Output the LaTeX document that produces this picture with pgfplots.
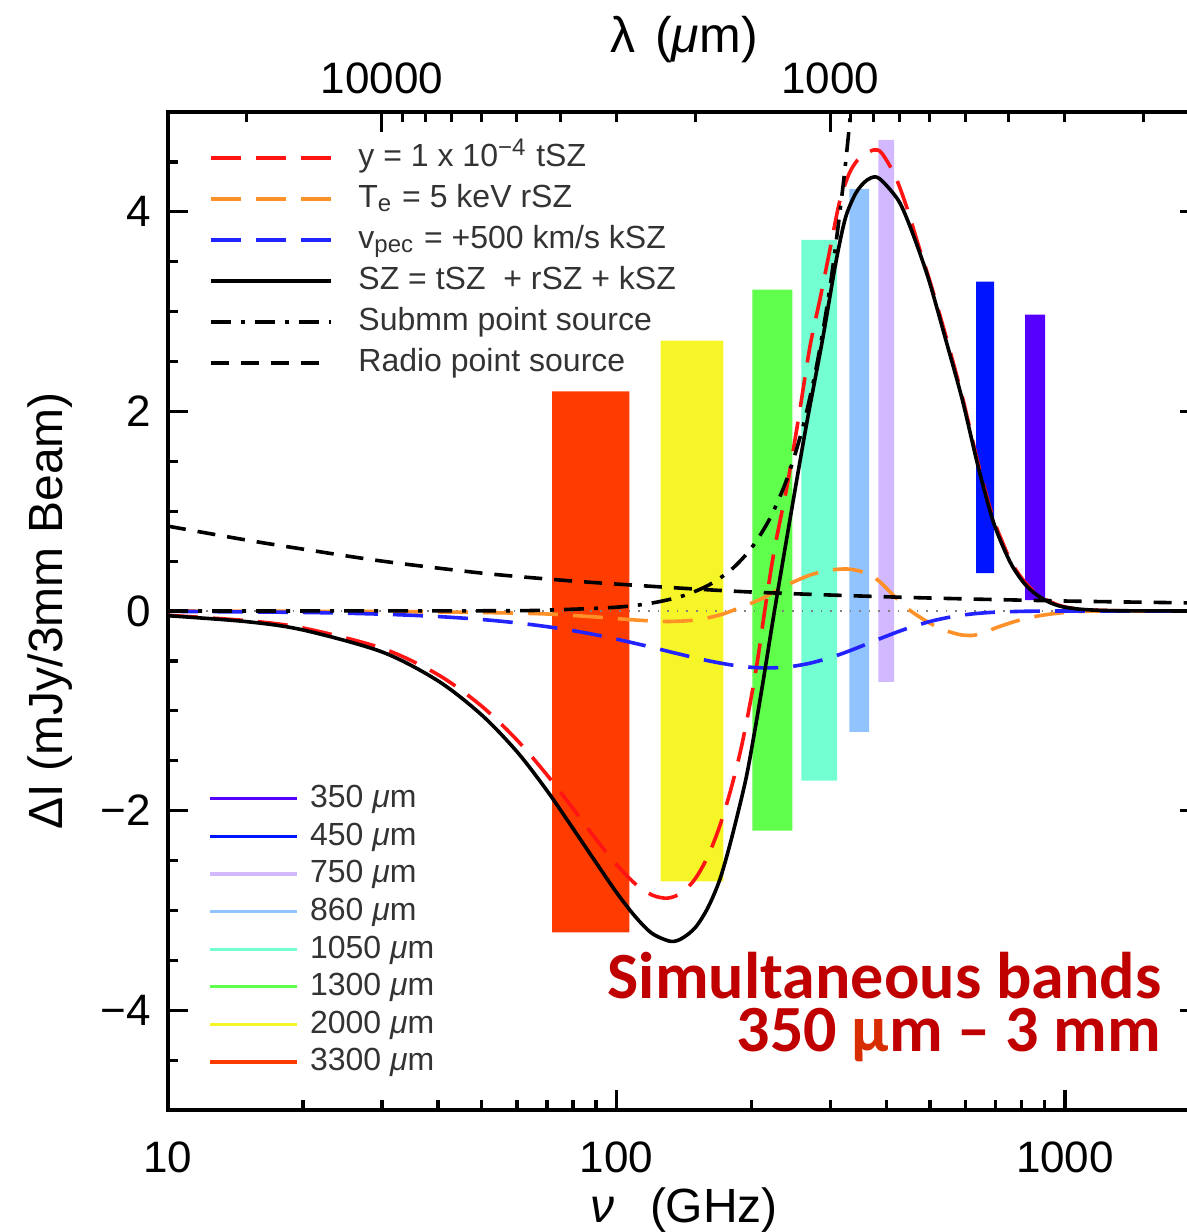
\documentclass[border=0pt]{standalone}
\usepackage{pgfplots}
\pgfplotsset{compat=1.18}
\usepackage{fontspec}
\setmainfont{Liberation Sans}
\newfontfamily\calibri{Carlito}
\definecolor{tszred}{RGB}{255,20,20}
\definecolor{rszorange}{RGB}{255,145,40}
\definecolor{kszblue}{RGB}{35,35,255}
\definecolor{b350}{RGB}{85,0,255}
\definecolor{b450}{RGB}{0,20,255}
\definecolor{b750}{RGB}{210,185,255}
\definecolor{b860}{RGB}{145,195,255}
\definecolor{b1050}{RGB}{115,255,210}
\definecolor{b1300}{RGB}{95,255,75}
\definecolor{b2000}{RGB}{245,245,40}
\definecolor{b3300}{RGB}{255,60,0}
\definecolor{darkred}{RGB}{192,0,0}
\definecolor{mured}{RGB}{215,45,0}
\begin{document}
\begin{tikzpicture}
% ---------- Axis A: frame, ticks, bands, band legend
\begin{axis}[xmode=log, xmin=10, xmax=2000, ymin=-5, ymax=5,
  width=258pt, height=249.5pt, scale only axis,
  xtick={10,100,1000}, xticklabels={10,100,1000}, xtick pos=left,
  minor xtick={20,30,40,50,60,70,80,90,200,300,400,500,600,700,800,900},
  ytick={-4,-2,0,2,4}, yticklabels={−4,−2,0,2,4},
  minor ytick={-4.5,-3.5,-3,-2.5,-1.5,-1,-0.5,0.5,1,1.5,2.5,3,3.5,4.5},
  major tick length=5pt, minor tick length=2.5pt,
  every tick/.style={black, line width=0.8pt},
  axis line style={line width=0.95pt},
  tick label style={font=\fontsize{11}{13}\selectfont},
  xticklabel style={yshift=-4.3pt},
  yticklabel style={xshift=-0.8pt},
  xlabel={{\itshape ν}\hspace{9pt}(GHz)},
  ylabel={ΔI (mJy/3mm Beam)},
  label style={font=\fontsize{12}{14}\selectfont},
  xlabel style={at={(axis description cs:0.5,-0.1002)}, anchor=center},
  ylabel style={at={(axis description cs:-0.1143,0.5)}, anchor=center},
  legend image code/.code={\draw[#1, line width=0.8pt] (0pt,0pt) -- (21.75pt,0pt);},
  legend cell align=left,
  legend style={at={(axis description cs:0.0388,0.3297)}, anchor=north west,
    draw=none, fill=none, inner sep=0pt, font=\fontsize{8}{9}\selectfont,
    row sep=0.9pt, column sep=2.25pt,
    nodes={inner sep=0.5pt, text height=6pt, text depth=1.5pt, text=black!80}},
]
\addplot[fill=b3300, draw=none, forget plot] coordinates {(71.9,-3.22) (106.8,-3.22) (106.8,2.20) (71.9,2.20) (71.9,-3.22)};
\addplot[fill=b2000, draw=none, forget plot] coordinates {(125.4,-2.71) (173.0,-2.71) (173.0,2.71) (125.4,2.71) (125.4,-2.71)};
\addplot[fill=b1300, draw=none, forget plot] coordinates {(200.9,-2.20) (246.6,-2.20) (246.6,3.22) (200.9,3.22) (200.9,-2.20)};
\addplot[fill=b1050, draw=none, forget plot] coordinates {(258.2,-1.70) (310.5,-1.70) (310.5,3.72) (258.2,3.72) (258.2,-1.70)};
\addplot[fill=b860, draw=none, forget plot] coordinates {(330.4,-1.21) (366.0,-1.21) (366.0,4.23) (330.4,4.23) (330.4,-1.21)};
\addplot[fill=b750, draw=none, forget plot] coordinates {(383.4,-0.71) (415.9,-0.71) (415.9,4.72) (383.4,4.72) (383.4,-0.71)};
\addplot[fill=b450, draw=none, forget plot] coordinates {(633.8,0.38) (695.0,0.38) (695.0,3.30) (633.8,3.30) (633.8,0.38)};
\addplot[fill=b350, draw=none, forget plot] coordinates {(814.7,0.11) (902.8,0.11) (902.8,2.97) (814.7,2.97) (814.7,0.11)};
\addlegendimage{b350}\addlegendentry{350 \textit{μ}m}
\addlegendimage{b450}\addlegendentry{450 \textit{μ}m}
\addlegendimage{b750}\addlegendentry{750 \textit{μ}m}
\addlegendimage{b860}\addlegendentry{860 \textit{μ}m}
\addlegendimage{b1050}\addlegendentry{1050 \textit{μ}m}
\addlegendimage{b1300}\addlegendentry{1300 \textit{μ}m}
\addlegendimage{b2000}\addlegendentry{2000 \textit{μ}m}
\addlegendimage{b3300}\addlegendentry{3300 \textit{μ}m}
\coordinate (SW) at (rel axis cs:0,0);
\end{axis}
% ---------- Axis B: curves and curve legend
\begin{axis}[xmode=log, xmin=10, xmax=2000, ymin=-5, ymax=5,
  width=258pt, height=249.5pt, scale only axis, hide axis,
  legend image code/.code={\draw[#1] (0pt,0pt) -- (30pt,0pt);},
  legend cell align=left,
  legend style={at={(axis description cs:0.0388,0.972)}, anchor=north west,
    draw=none, fill=none, inner sep=0pt, font=\fontsize{8}{9}\selectfont,
    row sep=1.75pt, column sep=6pt,
    nodes={inner sep=0.5pt, text height=6pt, text depth=1.5pt, text=black!80}},
]
\addplot[gray, dotted, line width=0.4pt, forget plot] coordinates {(10,0) (2000,0)};
\addplot[tszred, line width=0.9pt, smooth, dash pattern=on 7.5pt off 3.75pt] coordinates {
(10,-0.043) (15,-0.097) (20,-0.170) (30,-0.373) (40,-0.638) (50,-0.952) (60,-1.293) (70,-1.643) (80,-1.980) (90,-2.286) (100,-2.541) (110,-2.732) (120,-2.846) (130,-2.877) (140,-2.822) (150,-2.679) (160,-2.454) (170,-2.152) (180,-1.783) (190,-1.358) (200,-0.85) (207,-0.45) (214,0) (225,0.62) (240,1.25) (255,1.95) (270,2.65) (285,3.15) (300,3.65) (314,4.09) (330,4.38) (345,4.52) (360,4.58) (375,4.62) (390,4.59) (418,4.36) (445,4.03) (470,3.68) (500,3.30) (542,2.76) (590,2.15) (640,1.48) (688,0.96) (730,0.66) (763,0.47) (810,0.30) (860,0.18) (920,0.10) (990,0.045) (1100,0.015) (1300,0.003) (2000,0)};
\addlegendentry{y = 1 x 10\textsuperscript{−4} tSZ}
\addplot[rszorange, line width=0.9pt, smooth, dash pattern=on 7.5pt off 3.75pt] coordinates {
(10,0) (30,-0.005) (50,-0.015) (70,-0.03) (90,-0.06) (110,-0.09) (130,-0.105) (150,-0.09) (170,-0.04) (190,0.04) (210,0.12) (240,0.26) (270,0.36) (300,0.41) (330,0.42) (360,0.38) (385,0.30) (418,0.14) (450,0.01) (490,-0.10) (530,-0.18) (580,-0.235) (620,-0.245) (660,-0.22) (700,-0.17) (780,-0.10) (870,-0.05) (1000,-0.015) (1200,0) (2000,0)};
\addlegendentry{T\textsubscript{e} = 5 keV rSZ}
\addplot[kszblue, line width=0.9pt, smooth, dash pattern=on 7.5pt off 3.75pt] coordinates {
(10,-0.0036) (20,-0.0143) (30,-0.0319) (40,-0.0556) (50,-0.0849) (60,-0.119) (70,-0.157) (80,-0.197) (90,-0.239) (100,-0.282) (110,-0.324) (120,-0.364) (130,-0.403) (140,-0.438) (150,-0.470) (160,-0.498) (170,-0.521) (180,-0.540) (190,-0.554) (200,-0.564) (210,-0.569) (220,-0.570) (230,-0.567) (240,-0.561) (250,-0.551) (270,-0.523) (300,-0.467) (330,-0.401) (360,-0.334) (390,-0.271) (420,-0.215) (450,-0.167) (500,-0.105) (550,-0.064) (600,-0.037) (650,-0.021) (700,-0.012) (800,-0.0035) (900,-0.001) (1000,0) (2000,0)};
\addlegendentry{v\textsubscript{pec} = +500 km/s kSZ}
\addplot[black, line width=0.9pt, smooth] coordinates {
(10,-0.047) (15,-0.107) (20,-0.19) (30,-0.41) (40,-0.70) (50,-1.04) (60,-1.41) (70,-1.80) (80,-2.18) (90,-2.52) (100,-2.82) (110,-3.06) (120,-3.23) (132,-3.31) (140,-3.28) (150,-3.17) (160,-2.97) (170,-2.69) (180,-2.30) (194,-1.70) (203,-1.22) (212,-0.72) (225,0) (245,0.98) (265,1.86) (288,2.72) (308,3.48) (324,3.94) (342,4.19) (360,4.31) (378,4.35) (395,4.29) (427,4.10) (456,3.80) (496,3.33) (542,2.72) (590,2.12) (640,1.45) (688,0.93) (725,0.66) (763,0.45) (810,0.28) (860,0.17) (920,0.09) (986,0.043) (1100,0.015) (1300,0.003) (2000,0)};
\addlegendentry{SZ = tSZ \ + rSZ + kSZ}
\addplot[black, line width=0.9pt, smooth, dash pattern=on 5pt off 2.5pt on 1pt off 2.5pt] coordinates {
(10,0.0) (50,0.002) (70,0.009) (100,0.038) (120,0.08) (140,0.149) (160,0.256) (180,0.412) (200,0.632) (220,0.931) (240,1.325) (260,1.835) (280,2.478) (300,3.28) (320,4.26) (335,5.13) (345,5.8)};
\addlegendentry{Submm point source}
\addplot[black, line width=0.9pt, smooth, dash pattern=on 4.5pt off 3pt] coordinates {
(10,0.85) (15,0.71) (20,0.62) (30,0.50) (50,0.38) (75,0.31) (100,0.27) (150,0.22) (200,0.19) (300,0.16) (500,0.13) (1000,0.10) (2000,0.08)};
\addlegendentry{Radio point source}
\node[anchor=base east, text=darkred, font=\calibri\bfseries\fontsize{16.5}{19}\selectfont, inner sep=0pt, text height=11pt, text depth=0pt] at (rel axis cs:0.9632,0.1122) {Simultaneous bands};
\node[anchor=base east, text=darkred, font=\calibri\bfseries\fontsize{16.5}{19}\selectfont, inner sep=0pt, text height=11pt, text depth=2pt] at (rel axis cs:0.9632,0.0591) {350 {\color{mured}μ}m – 3 mm};
\end{axis}
% ---------- Axis C: top wavelength axis
\begin{axis}[xmode=log, xmin=10, xmax=2000, ymin=-5, ymax=5,
  width=258pt, height=249.5pt, scale only axis,
  axis x line*=top, axis y line=none,
  xtick={29.9792458,299.792458}, xticklabels={10000,1000},
  minor xtick={14.99,33.31,37.47,42.83,49.97,59.96,74.95,99.93,149.9,333.1,374.7,428.3,499.7,599.6,749.5,999.3,1499},
  major tick length=5pt, minor tick length=2.5pt,
  every tick/.style={black, line width=0.8pt},
  axis line style={line width=0.95pt},
  tick label style={font=\fontsize{11}{13}\selectfont},
  xticklabel style={yshift=1pt},
  xlabel={λ\hspace{5pt}(\textit{μ}m)},
  label style={font=\fontsize{12.5}{14}\selectfont},
  xlabel style={at={(axis description cs:0.5,1.0721)}, anchor=center},
]
\addplot[draw=none, forget plot] coordinates {(10,0) (2000,0)};
\end{axis}
\pgfresetboundingbox
\path[use as bounding box] ([xshift=-42pt,yshift=-30.5pt]SW) rectangle ([xshift=254.75pt,yshift=277.5pt]SW);
\end{tikzpicture}
\end{document}
